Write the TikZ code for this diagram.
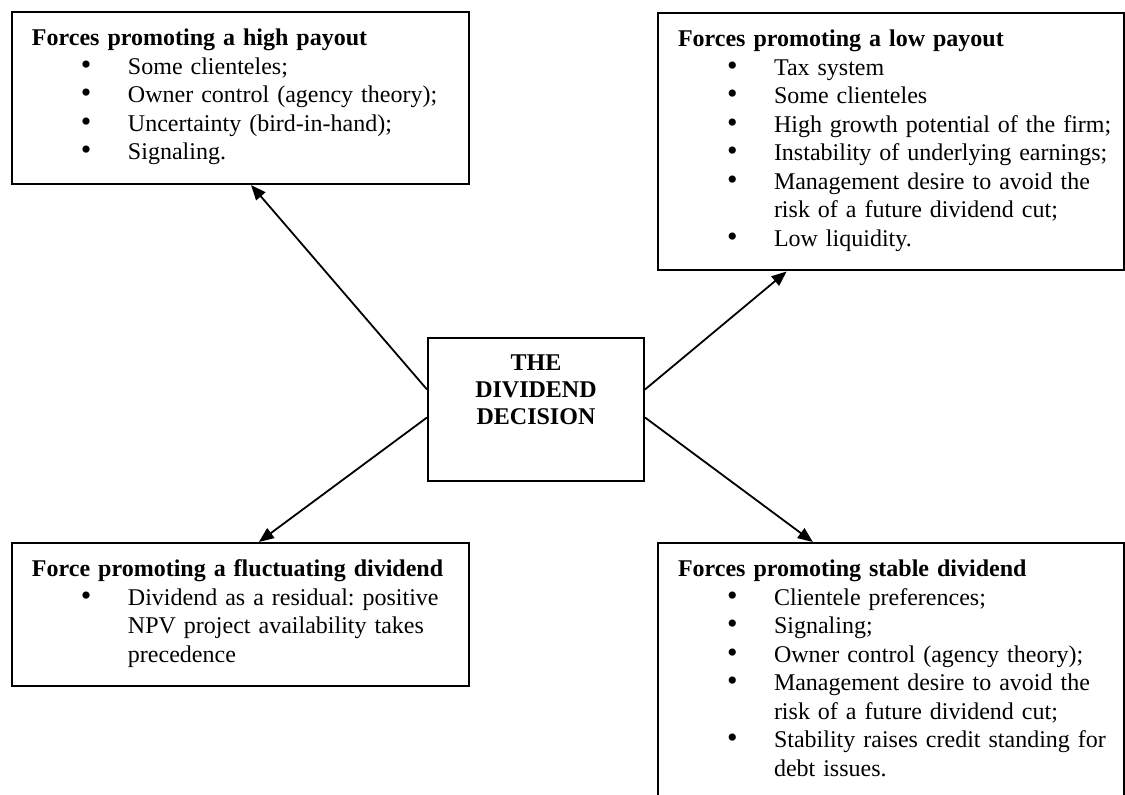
\documentclass[tikz,border=0pt]{standalone}
\usepackage{fontspec}
\setmainfont{Liberation Serif}
\usetikzlibrary{arrows.meta,positioning,calc}

\newcommand{\bitem}[1]{\hspace*{24.5pt}\makebox[23.5pt][l]{\fontsize{15pt}{14pt}\selectfont\textbullet}\mbox{#1}}
\newcommand{\citem}[1]{\hspace*{48pt}\mbox{#1}}
\newcommand{\boxhead}[1]{\rule{0pt}{17pt}\mbox{\textbf{#1}}}
\newcommand{\tailstrut}{\rule[-12pt]{0pt}{0pt}}

\tikzset{
  forcebox/.style={draw, line width=1pt, anchor=north west, inner xsep=10pt, inner ysep=0pt,
    align=left, font=\fontsize{12pt}{14.25pt}\selectfont\frenchspacing},
  hubbox/.style={draw, line width=1pt, anchor=north west, inner xsep=4pt, inner ysep=0pt,
    text width=100pt, align=center, font=\bfseries\fontsize{12pt}{13.5pt}\selectfont},
  arr/.style={-{Triangle[length=7.5pt,width=6pt]}, line width=0.9pt}
}

\begin{document}
\begin{tikzpicture}[x=0.5pt, y=-0.5pt]
\useasboundingbox (0,0) rectangle (1125,795);

% Centre box
\node[hubbox] (hub) at (427,337) {\rule{0pt}{16.5pt}THE\\DIVIDEND\\DECISION\rule[-28pt]{0pt}{0pt}};

% Forces boxes
\node[forcebox, text width=208.5pt] (high) at (11,11) {\boxhead{Forces promoting a high payout}\\
  \bitem{Some clienteles;}\\
  \bitem{Owner control (agency theory);}\\
  \bitem{Uncertainty (bird-in-hand);}\\
  \bitem{Signaling.}\tailstrut};

\node[forcebox, text width=213pt] (low) at (657,12) {\boxhead{Forces promoting a low payout}\\
  \bitem{Tax system}\\
  \bitem{Some clienteles}\\
  \bitem{High growth potential of the firm;}\\
  \bitem{Instability of underlying earnings;}\\
  \bitem{Management desire to avoid the}\\
  \citem{risk of a future dividend cut;}\\
  \bitem{Low liquidity.}\tailstrut};

\node[forcebox, text width=208.5pt] (fluct) at (11,542) {\boxhead{Force promoting a fluctuating dividend}\\
  \bitem{Dividend as a residual: positive}\\
  \citem{NPV project availability takes}\\
  \citem{precedence}\tailstrut};

\node[forcebox, text width=213pt] (stable) at (657,542) {\boxhead{Forces promoting stable dividend}\\
  \bitem{Clientele preferences;}\\
  \bitem{Signaling;}\\
  \bitem{Owner control (agency theory);}\\
  \bitem{Management desire to avoid the}\\
  \citem{risk of a future dividend cut;}\\
  \bitem{Stability raises credit standing for}\\
  \citem{debt issues.}\rule[-16pt]{0pt}{0pt}};

% Arrows out of the centre box
\draw[arr] ([yshift=10pt]hub.west) -- ($(high.south west)!0.523!(high.south east)$);
\draw[arr] ([yshift=10pt]hub.east) -- ($(low.south west)!0.277!(low.south east)$);
\draw[arr] ([yshift=-4pt]hub.west) -- ($(fluct.north west)!0.54!(fluct.north east)$);
\draw[arr] ([yshift=-4pt]hub.east) -- ($(stable.north west)!0.333!(stable.north east)$);
\end{tikzpicture}
\end{document}
